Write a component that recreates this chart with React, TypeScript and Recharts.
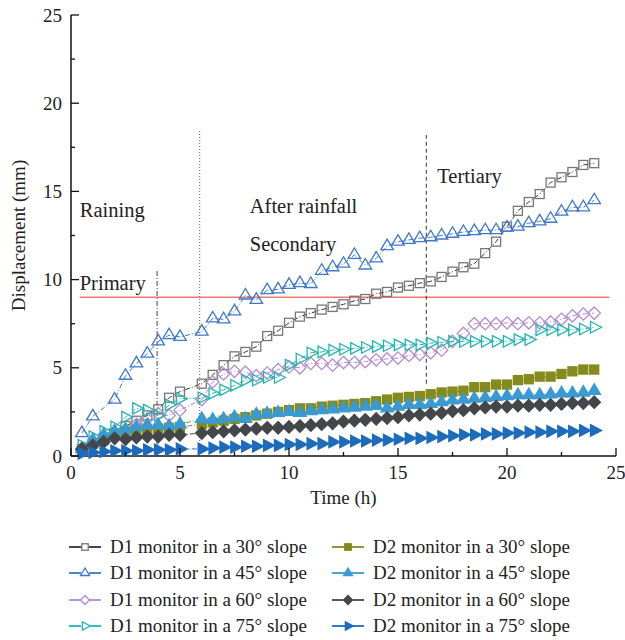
import React from 'react';
import { LineChart, Line, XAxis, YAxis, ReferenceLine, ReferenceDot } from 'recharts';

// time of each reading (h)
const hours = [
  0.5, 1, 1.5, 2, 2.5, 3, 3.5, 4, 4.5, 5, 5.5, 6, 6.5, 7, 7.5, 8, 8.5, 9, 9.5, 10, 10.5, 11, 11.5, 12,
  12.5, 13, 13.5, 14, 14.5, 15, 15.5, 16, 16.5, 17, 17.5, 18, 18.5, 19, 19.5, 20, 20.5, 21, 21.5, 22,
  22.5, 23, 23.5, 24,
];

// displacement (mm), null = no reading
const d1Slope30 = [
  0.4, 0.7, 1.0, 1.3, 1.7, 2.0, 2.3, 2.65, 3.3, 3.65, null, 4.1, 4.6, 5.15, 5.65, 5.9, 6.2, 6.8, 7.1, 7.55,
  7.9, 8.1, 8.3, 8.45, 8.6, 8.8, 8.9, 9.2, 9.3, 9.55, 9.65, 9.8, 9.9, 10.15, 10.45, 10.7, 10.9, 11.5,
  12.15, 13.0, 13.9, 14.4, 14.85, 15.5, 15.8, 16.1, 16.5, 16.6,
];
const d1Slope45 = [
  1.3, 2.25, null, 3.2, 4.55, 5.25, 5.8, 6.5, 6.85, 6.75, null, 7.05, 7.8, 7.75, 8.2, 9.1, 8.85, 9.4, 9.45,
  9.7, 9.8, 9.75, 10.5, 10.7, 10.9, 11.4, 10.8, 11.2, 11.9, 12.15, 12.25, 12.35, 12.4, 12.5, 12.6, 12.7,
  12.75, 12.8, 12.8, 12.95, 13.0, 13.2, 13.3, 13.45, 13.85, 14.1, 14.1, 14.5,
];
const d1Slope60 = [
  0.3, 0.6, 0.9, 1.2, 1.5, 1.8, 2.1, 2.4, 2.3, 2.6, null, 3.2, 4.2, 4.65, 4.8, 4.75, 4.55, 4.7, 4.9, 5.05,
  5.0, 5.25, 5.25, 5.15, 5.3, 5.3, 5.35, 5.45, 5.5, 5.55, 5.7, 5.75, 5.85, 6.0, 6.5, 6.95, 7.5, 7.5, 7.5,
  7.55, 7.5, 7.55, 7.55, 7.6, 7.75, 7.95, 8.05, 8.1,
];
const d1Slope75 = [
  0.6, 1.1, 1.4, 1.65, 2.2, 2.7, 2.6, 2.3, 2.9, 3.25, null, 3.3, 3.55, 3.75, 4.0, 4.3, 4.3, 4.45, 4.45, 5.15,
  5.5, 5.85, 5.9, 6.0, 6.05, 6.1, 6.15, 6.2, 6.25, 6.3, 6.3, 6.3, 6.4, 6.45, 6.5, 6.5, 6.5, 6.5, 6.5, 6.5,
  6.6, 6.6, 7.15, 7.15, 7.15, 7.15, 7.2, 7.3,
];
const d2Slope30 = [
  0.3, 0.7, 0.9, 1.2, 1.35, 1.45, 1.5, 1.55, 1.6, 1.65, null, 1.8, 1.9, 2.0, 2.1, 2.2, 2.3, 2.4, 2.5, 2.6,
  2.7, 2.7, 2.8, 2.85, 2.9, 2.95, 3.0, 3.1, 3.2, 3.3, 3.35, 3.4, 3.5, 3.6, 3.65, 3.7, 3.9, 3.9, 4.05, 4.05,
  4.3, 4.35, 4.5, 4.5, 4.65, 4.8, 4.9, 4.9,
];
const d2Slope45 = [
  0.4, 0.9, 1.2, 1.4, 1.5, 1.65, 1.75, 1.75, 1.7, 1.8, null, 2.1, 2.05, 2.1, 2.2, 2.1, 2.35, 2.4, 2.45, 2.5,
  2.45, 2.55, 2.6, 2.65, 2.7, 2.75, 2.8, 2.85, 2.7, 2.8, 2.9, 2.9, 2.95, 3.05, 3.15, 3.2, 3.25, 3.3, 3.35,
  3.4, 3.45, 3.45, 3.45, 3.5, 3.55, 3.55, 3.6, 3.7,
];
const d2Slope60 = [
  0.4, 0.6, 0.8, 1.0, 0.95, 1.05, 1.1, 1.1, 1.2, 1.2, null, 1.3, 1.35, 1.4, 1.45, 1.5, 1.55, 1.6, 1.6, 1.65,
  1.7, 1.75, 1.8, 1.85, 1.95, 2.0, 2.05, 2.1, 2.15, 2.2, 2.3, 2.35, 2.4, 2.45, 2.55, 2.6, 2.7, 2.75, 2.8,
  2.8, 2.85, 2.85, 2.9, 2.9, 2.95, 3.0, 3.0, 3.05,
];
const d2Slope75 = [
  0.15, 0.2, 0.25, 0.3, 0.3, 0.3, 0.35, 0.35, 0.35, 0.4, null, 0.4, 0.45, 0.5, 0.5, 0.55, 0.55, 0.6, 0.6,
  0.65, 0.65, 0.7, 0.7, 0.8, 0.8, 0.85, 0.85, 0.9, 0.9, 0.95, 1.0, 1.0, 1.05, 1.1, 1.15, 1.2, 1.2, 1.25,
  1.25, 1.3, 1.3, 1.35, 1.35, 1.4, 1.4, 1.4, 1.45, 1.45,
];

const axisTicks = [0, 2.5, 5, 7.5, 10, 12.5, 15, 17.5, 20, 22.5, 25];

type Shape = 'square' | 'triangle' | 'diamond' | 'arrow';

interface SeriesDef {
  key: string;
  name: string;
  values: (number | null)[];
  color: string;
  lineColor: string;
  shape: Shape;
  filled: boolean;
}

const series: SeriesDef[] = [
  { key: 'd1s30', name: 'D1 monitor in a 30° slope', values: d1Slope30, color: '#777777', lineColor: '#333333', shape: 'square', filled: false },
  { key: 'd1s45', name: 'D1 monitor in a 45° slope', values: d1Slope45, color: '#3f78c8', lineColor: '#3f78c8', shape: 'triangle', filled: false },
  { key: 'd1s60', name: 'D1 monitor in a 60° slope', values: d1Slope60, color: '#b48ccf', lineColor: '#b48ccf', shape: 'diamond', filled: false },
  { key: 'd1s75', name: 'D1 monitor in a 75° slope', values: d1Slope75, color: '#26b5b0', lineColor: '#26b5b0', shape: 'arrow', filled: false },
  { key: 'd2s30', name: 'D2 monitor in a 30° slope', values: d2Slope30, color: '#858a1c', lineColor: '#858a1c', shape: 'square', filled: true },
  { key: 'd2s45', name: 'D2 monitor in a 45° slope', values: d2Slope45, color: '#3a9ad2', lineColor: '#3a9ad2', shape: 'triangle', filled: true },
  { key: 'd2s60', name: 'D2 monitor in a 60° slope', values: d2Slope60, color: '#444749', lineColor: '#444749', shape: 'diamond', filled: true },
  { key: 'd2s75', name: 'D2 monitor in a 75° slope', values: d2Slope75, color: '#1d6bbb', lineColor: '#1d6bbb', shape: 'arrow', filled: true },
];

const chartData = hours.map((t, i) => {
  const row: Record<string, number | null> = { t };
  series.forEach((s) => {
    row[s.key] = s.values[i];
  });
  return row;
});

const FONT = '"Liberation Serif", "Times New Roman", serif';
const TICK_GAP = 7;

const Marker = ({ shape, x, y, color, filled, k = 1 }: { shape: Shape; x: number; y: number; color: string; filled: boolean; k?: number }) => {
  const fill = filled ? color : 'none';
  const sw = 1.3;
  if (shape === 'square') {
    const s = 9 * k;
    return <rect x={x - s / 2} y={y - s / 2} width={s} height={s} fill={fill} stroke={color} strokeWidth={sw} />;
  }
  if (shape === 'triangle') {
    const w = 12.5 * k;
    const h = 10.5 * k;
    const pts = `${x},${y - (h * 2) / 3} ${x - w / 2},${y + h / 3} ${x + w / 2},${y + h / 3}`;
    return <polygon points={pts} fill={fill} stroke={color} strokeWidth={sw} />;
  }
  if (shape === 'diamond') {
    const r = 6.2 * k;
    const pts = `${x},${y - r} ${x + r},${y} ${x},${y + r} ${x - r},${y}`;
    return <polygon points={pts} fill={fill} stroke={color} strokeWidth={sw} />;
  }
  const w = 11.5 * k;
  const h = 11 * k;
  const pts = `${x - h / 3},${y - w / 2} ${x + (h * 2) / 3},${y} ${x - h / 3},${y + w / 2}`;
  return <polygon points={pts} fill={fill} stroke={color} strokeWidth={sw} />;
};

const makeDot = (s: SeriesDef) => (props: any) => {
  const { cx, cy, index, value } = props;
  if (cx == null || cy == null || value == null) return <g key={`${s.key}-${index}`} />;
  return (
    <g key={`${s.key}-${index}`}>
      <Marker shape={s.shape} x={cx} y={cy} color={s.color} filled={s.filled} />
    </g>
  );
};

const YTick = (props: any) => {
  const { x, y, payload } = props;
  const axisX = x + TICK_GAP;
  const major = payload.value % 5 === 0;
  return (
    <g>
      <line x1={axisX} x2={axisX + (major ? 8 : 4)} y1={y} y2={y} stroke="#111" strokeWidth={1.3} />
      {major && (
        <text x={x - 2} y={y} textAnchor="end" dominantBaseline="central" fontFamily={FONT} fontSize={19} fill="#222">
          {payload.value}
        </text>
      )}
    </g>
  );
};

const XTick = (props: any) => {
  const { x, y, payload } = props;
  const axisY = y - TICK_GAP;
  const major = payload.value % 5 === 0;
  return (
    <g>
      <line x1={x} x2={x} y1={axisY} y2={axisY - (major ? 8 : 4)} stroke="#111" strokeWidth={1.3} />
      {major && (
        <text x={x} y={y + 2} textAnchor="middle" dominantBaseline="hanging" fontFamily={FONT} fontSize={19} fill="#222">
          {payload.value}
        </text>
      )}
    </g>
  );
};

const Note = (text: string) => (props: any) => {
  const { viewBox } = props;
  const cx = viewBox.x + (viewBox.width || 0) / 2;
  const cy = viewBox.y + (viewBox.height || 0) / 2;
  return (
    <text x={cx} y={cy} dominantBaseline="central" fontFamily={FONT} fontSize={20.5} fill="#222">
      {text}
    </text>
  );
};

const LegendBlock = () => (
  <div
    style={{
      position: 'absolute',
      left: 0,
      top: 534,
      width: 625,
      display: 'grid',
      gridTemplateColumns: '263px 292px',
      gridAutoRows: '26.3px',
      paddingLeft: 69,
      fontFamily: FONT,
      fontSize: 19,
      color: '#222',
    }}
  >
    {[0, 4, 1, 5, 2, 6, 3, 7].map((i) => {
      const s = series[i];
      return (
        <div key={s.key} style={{ display: 'flex', alignItems: 'center', whiteSpace: 'nowrap' }}>
          <svg width={32} height={20} style={{ marginRight: 9 }}>
            <line x1={0} x2={32} y1={10} y2={10} stroke={s.lineColor} strokeWidth={1.8} />
            {s.filled ? (
              <Marker shape={s.shape} x={16} y={10} color={s.color} filled k={0.72} />
            ) : (
              <g>
                <circle cx={16} cy={10} r={4} fill="#fff" />
                <Marker shape={s.shape} x={16} y={10} color={s.color} filled={false} k={0.72} />
              </g>
            )}
          </svg>
          <span>{s.name}</span>
        </div>
      );
    })}
  </div>
);

export default function App() {
  return (
    <div style={{ position: 'absolute', left: 0, top: 0, width: 625, height: 640, background: '#fff' }}>
      <LineChart width={625} height={515} data={chartData} margin={{ top: 15, right: 9, left: 0, bottom: 0 }}>
        <XAxis
          dataKey="t"
          type="number"
          domain={[0, 25]}
          ticks={axisTicks}
          interval={0}
          tickSize={0}
          tickMargin={TICK_GAP}
          tick={<XTick />}
          height={59}
          axisLine={{ stroke: '#111', strokeWidth: 1.5 }}
          label={{
            content: (p: any) => (
              <text x={p.viewBox.x + p.viewBox.width / 2} y={p.viewBox.y + 41} textAnchor="middle" dominantBaseline="central" fontFamily={FONT} fontSize={19} fill="#222">
                Time (h)
              </text>
            ),
          }}
        />
        <YAxis
          type="number"
          domain={[0, 25]}
          ticks={axisTicks}
          interval={0}
          tickSize={0}
          tickMargin={TICK_GAP}
          tick={<YTick />}
          width={71}
          axisLine={{ stroke: '#111', strokeWidth: 1.5 }}
          label={{
            content: (p: any) => {
              const cx = p.viewBox.x + 18;
              const cy = p.viewBox.y + p.viewBox.height / 2;
              return (
                <text x={cx} y={cy} transform={`rotate(-90, ${cx}, ${cy})`} textAnchor="middle" dominantBaseline="central" fontFamily={FONT} fontSize={19} fill="#222">
                  Displacement (mm)
                </text>
              );
            },
          }}
        />
        <ReferenceLine segment={[{ x: 0.4, y: 9 }, { x: 24.7, y: 9 }]} stroke="#f07a6e" strokeWidth={1.4} />
        <ReferenceLine segment={[{ x: 3.95, y: 0 }, { x: 3.95, y: 10.5 }]} stroke="#666" strokeWidth={1.2} strokeDasharray="5 2 1 2" />
        <ReferenceLine segment={[{ x: 5.9, y: 0 }, { x: 5.9, y: 18.5 }]} stroke="#777" strokeWidth={1.2} strokeDasharray="1 2" />
        <ReferenceLine segment={[{ x: 16.3, y: 4.1 }, { x: 16.3, y: 18.2 }]} stroke="#555" strokeWidth={1.2} strokeDasharray="4 3" />
        {series.map((s) => (
          <Line
            key={s.key}
            dataKey={s.key}
            name={s.name}
            stroke={s.lineColor}
            strokeWidth={1}
            strokeDasharray="5 2 1 2"
            dot={makeDot(s)}
            activeDot={false}
            connectNulls
            isAnimationActive={false}
          />
        ))}
        <ReferenceDot x={0.4} y={13.95} r={0} label={Note('Raining')} ifOverflow="visible" />
        <ReferenceDot x={0.4} y={9.8} r={0} label={Note('Primary')} ifOverflow="visible" />
        <ReferenceDot x={8.2} y={14.2} r={0} label={Note('After rainfall')} ifOverflow="visible" />
        <ReferenceDot x={8.2} y={12.0} r={0} label={Note('Secondary')} ifOverflow="visible" />
        <ReferenceDot x={16.8} y={15.9} r={0} label={Note('Tertiary')} ifOverflow="visible" />
      </LineChart>
      <LegendBlock />
    </div>
  );
}
